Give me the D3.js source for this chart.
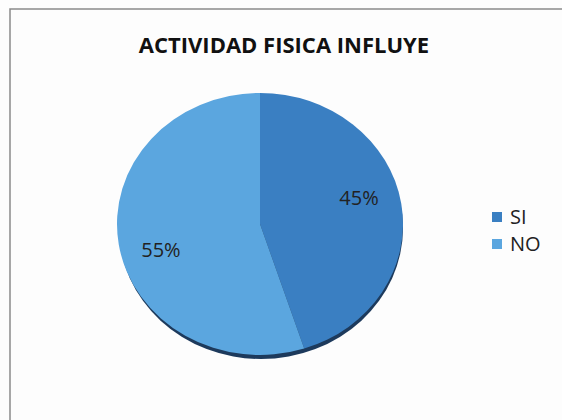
<!DOCTYPE html>
<html>
<head>
<meta charset="utf-8">
<script src="https://cdn.jsdelivr.net/npm/d3@7"></script>
<style>
  body { margin: 0; background: #fdfdfd; }
  svg { display: block; }
</style>
</head>
<body>
<div id="viz"></div>
<script>
// datos - data
var categories = ['SI', 'NO'];
var values = [45, 55];
var colors = ['#3a7fc2', '#5ba6df'];

var width = 562, height = 420;

var svg = d3.select('#viz')
  .append('svg')
  .attr('width', width)
  .attr('height', height);

// marco - chart border
svg.append('path')
  .attr('d', 'M10,' + height + ' L10,9 L' + width + ',9')
  .attr('fill', 'none')
  .attr('stroke', '#8a8a8a')
  .attr('stroke-width', 1.5);

svg.append('text')
  .text('ACTIVIDAD FISICA INFLUYE')
  .attr('x', 284)
  .attr('y', 53)
  .attr('text-anchor', 'middle')
  .attr('font-family', 'Open Sans, sans-serif')
  .attr('font-weight', 'bold')
  .attr('font-size', '22px')
  .attr('fill', '#111');

var cx = 260, cy = 224, rx = 143, ry = 131;

var data = categories.map(function(c, i) { return {cat: c, value: values[i]}; });
var pie = d3.pie().sort(null).value(function(d) { return d.value; });
var arcs = pie(data);

var color = d3.scaleOrdinal().domain(categories).range(colors);

// sombra - shadow below the pie
svg.append('ellipse')
  .attr('cx', cx + 1)
  .attr('cy', cy + 4)
  .attr('rx', rx - 1)
  .attr('ry', ry)
  .attr('fill', '#1d3a5c');

var g = svg.append('g')
  .attr('transform', 'translate(' + cx + ',' + cy + ') scale(1,' + (ry / rx) + ')');

var arc = d3.arc().innerRadius(0).outerRadius(rx);

g.selectAll('path.slice')
  .data(arcs)
  .enter()
  .append('path')
  .attr('class', 'slice')
  .attr('d', arc)
  .attr('fill', function(d) { return color(d.data.cat); });

// etiquetas - labels, a bit rotated back like Excel does
var lr = rx * 0.72;
function labelPos(d) {
  var a = (d.startAngle + d.endAngle) / 2 - 0.12;
  return [cx + lr * Math.sin(a), cy - lr * Math.cos(a) * ry / rx];
}

svg.selectAll('text.lbl')
  .data(arcs)
  .enter()
  .append('text')
  .attr('class', 'lbl')
  .text(function(d) { return d.data.value + '%'; })
  .attr('x', function(d) { return labelPos(d)[0]; })
  .attr('y', function(d) { return labelPos(d)[1]; })
  .attr('text-anchor', 'middle')
  .attr('dy', '0.35em')
  .attr('font-family', 'Open Sans, sans-serif')
  .attr('font-size', '20px')
  .attr('fill', '#222');

// leyenda - legend
var legend = svg.selectAll('g.leg')
  .data(categories)
  .enter()
  .append('g')
  .attr('class', 'leg')
  .attr('transform', function(d, i) { return 'translate(492,' + (212 + i * 27) + ')'; });

legend.append('rect')
  .attr('width', 10)
  .attr('height', 10)
  .attr('fill', function(d) { return color(d); });

legend.append('text')
  .text(function(d) { return d; })
  .attr('x', 18)
  .attr('y', 5)
  .attr('dy', '0.35em')
  .attr('font-family', 'Open Sans, sans-serif')
  .attr('font-size', '20px')
  .attr('fill', '#222');
</script>
</body>
</html>
